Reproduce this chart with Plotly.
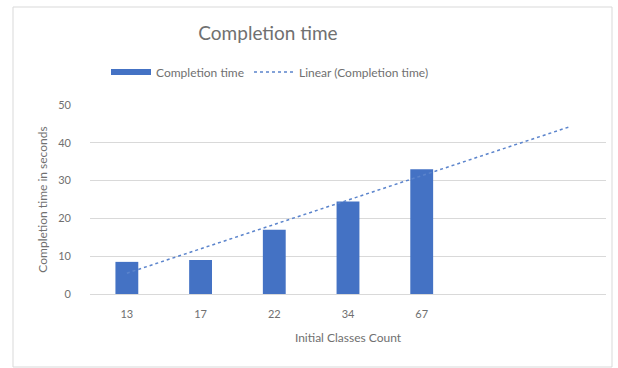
import numpy as np
import plotly.graph_objects as go

categories = ["13", "17", "22", "34", "67"]
completion_time = [8.5, 9.0, 17.0, 24.5, 33.0]
y_ticks = [0, 10, 20, 30, 40, 50]
forecast_slots = 2  # extra empty category slots the trendline extends into

W, H = 618, 368
L, R, T, B = 90, 12, 105, 74

pos = np.arange(1, len(categories) + 1)
coef = np.polyfit(pos, completion_time, 1)
trend_x = np.array([1, len(categories) + forecast_slots])
trend_y = np.polyval(coef, trend_x)

BLUE = "#4472C4"
GREY = "#707070"
FONT = "Lato, 'Open Sans', sans-serif"

fig = go.Figure()
fig.add_trace(go.Bar(
    x=pos, y=completion_time, name="Completion time", showlegend=False,
    marker=dict(color=BLUE, line=dict(width=0)),
))
# legend swatch for the bars (wide flat rectangle, Excel style)
fig.add_trace(go.Scatter(
    x=[None], y=[None], mode="lines", name="Completion time",
    line=dict(color=BLUE, width=6),
))
fig.add_trace(go.Scatter(
    x=trend_x, y=trend_y, mode="lines", name="Linear (Completion time)",
    line=dict(color="#5B84CC", width=1.5, dash="dot"),
))

fig.update_layout(
    width=W, height=H,
    margin=dict(l=L, r=R, t=T, b=B),
    paper_bgcolor="white", plot_bgcolor="white",
    font=dict(family=FONT, color=GREY, size=11),
    bargap=0.69,
    title=dict(text="Completion time", font=dict(size=19, color=GREY, family=FONT),
               xref="container", yref="container", x=268 / W, y=1 - 33 / H,
               xanchor="center", yanchor="middle"),
    legend=dict(orientation="h", xref="container", yref="container",
                x=270 / W, y=1 - 72 / H, xanchor="center", yanchor="middle",
                font=dict(size=12, color=GREY), itemwidth=40,
                bgcolor="rgba(0,0,0,0)"),
    showlegend=True,
)
fig.update_xaxes(
    range=[0.5, len(categories) + forecast_slots + 0.5],
    tickmode="array", tickvals=pos, ticktext=categories,
    showgrid=False, zeroline=False, showline=True, linecolor="#D9D9D9",
    ticks="", ticklabelstandoff=10,
    title=dict(text="Initial Classes Count", font=dict(size=12, color=GREY), standoff=14),
    fixedrange=True,
)
fig.update_yaxes(
    range=[0, 50], tickmode="array", tickvals=y_ticks,
    showgrid=True, gridcolor="#D9D9D9", gridwidth=1, zeroline=False,
    showline=False, ticks="", ticklabelstandoff=18,
    title=dict(text="Completion time in seconds", font=dict(size=12, color=GREY), standoff=8),
    fixedrange=True,
)

# outer chart border
fig.add_shape(type="rect", xref="paper", yref="paper",
              x0=(13 - L) / (W - L - R), x1=(612 - L) / (W - L - R),
              y0=-(367 - (H - B)) / (H - T - B), y1=1 + (T - 7) / (H - T - B),
              line=dict(color="#D9D9D9", width=1), layer="below")

fig.write_html("out.html")
